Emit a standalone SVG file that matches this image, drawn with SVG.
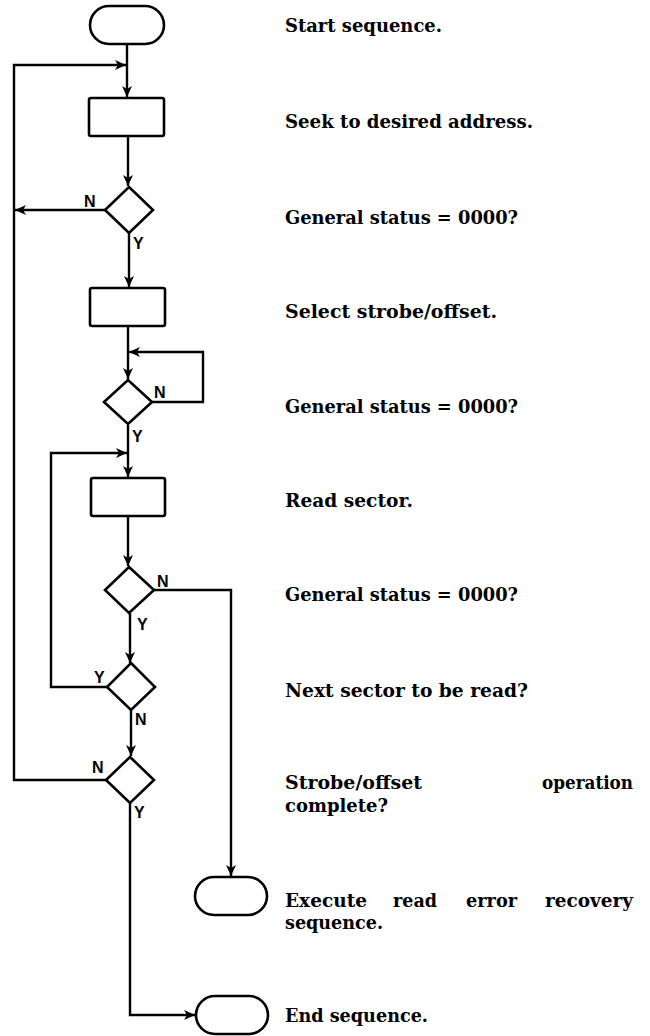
<svg xmlns="http://www.w3.org/2000/svg" width="650" height="1036" viewBox="0 0 650 1036">
<style>
.shape{fill:#fff;stroke:#000;stroke-width:2.6}
.line{fill:none;stroke:#000;stroke-width:2.4}
.desc{font-family:"DejaVu Serif","Liberation Serif",serif;font-weight:bold;font-size:18.5px;fill:#000}
.yn{font-family:"Liberation Sans",Arial,sans-serif;font-weight:bold;font-size:16px;fill:#000}
</style>
<defs>
<marker id="arr" markerUnits="userSpaceOnUse" markerWidth="12" markerHeight="10" refX="11" refY="5" orient="auto">
<path d="M0,0 L11,5 L0,10 L3,5 z" fill="#000"/>
</marker>
</defs>
<rect width="650" height="1036" fill="#fff"/>
<g id="connectors">
<path class="line" d="M127,44 V97" marker-end="url(#arr)"/>
<path class="line" d="M128,136 V186" marker-end="url(#arr)"/>
<path class="line" d="M129,233 V287" marker-end="url(#arr)"/>
<path class="line" d="M128,326 V379" marker-end="url(#arr)"/>
<path class="line" d="M128,425 V477" marker-end="url(#arr)"/>
<path class="line" d="M128,516 V566" marker-end="url(#arr)"/>
<path class="line" d="M130,613 V663" marker-end="url(#arr)"/>
<path class="line" d="M131,710 V756" marker-end="url(#arr)"/>
<path class="line" d="M105,210 H15" marker-end="url(#arr)"/>
<path class="line" d="M106,780 H14 V65 H126" marker-end="url(#arr)"/>
<path class="line" d="M152,402 H203 V352 H129" marker-end="url(#arr)"/>
<path class="line" d="M107,687 H51 V453 H127" marker-end="url(#arr)"/>
<path class="line" d="M153,590 H231 V876" marker-end="url(#arr)"/>
<path class="line" d="M130,803 V1015 H195" marker-end="url(#arr)"/>
</g>
<g id="start"><rect class="shape" x="90" y="6" width="74" height="38" rx="19"/></g>
<g id="seek"><rect class="shape" x="89" y="98" width="75" height="38" rx="2"/></g>
<g id="status1"><polygon class="shape" points="129,187 153,210 129,233 105,210"/></g>
<g id="select"><rect class="shape" x="90" y="288" width="75" height="38" rx="2"/></g>
<g id="status2"><polygon class="shape" points="128,380 152,402 128,424 104,402"/></g>
<g id="read"><rect class="shape" x="91" y="478" width="74" height="38" rx="2"/></g>
<g id="status3"><polygon class="shape" points="129,567 154,590 129,613 105,590"/></g>
<g id="next"><polygon class="shape" points="131,663 155,687 131,710 107,687"/></g>
<g id="complete"><polygon class="shape" points="130,757 154,780 130,803 106,780"/></g>
<g id="recovery"><rect class="shape" x="195" y="877" width="72" height="38" rx="19"/></g>
<g id="end"><rect class="shape" x="196" y="996" width="72" height="38" rx="19"/></g>
<g id="yn-labels">
<text class="yn" x="84" y="207">N</text>
<text class="yn" x="133" y="249">Y</text>
<text class="yn" x="154" y="398">N</text>
<text class="yn" x="132" y="442">Y</text>
<text class="yn" x="157" y="587">N</text>
<text class="yn" x="137" y="630">Y</text>
<text class="yn" x="94" y="683">Y</text>
<text class="yn" x="135" y="725">N</text>
<text class="yn" x="92" y="773">N</text>
<text class="yn" x="134" y="818">Y</text>
</g>
<g id="descriptions">
<text class="desc" x="285" y="32" textLength="157" lengthAdjust="spacingAndGlyphs">Start sequence.</text>
<text class="desc" x="285" y="128" textLength="248" lengthAdjust="spacingAndGlyphs">Seek to desired address.</text>
<text class="desc" x="285" y="224" textLength="233" lengthAdjust="spacingAndGlyphs">General status = 0000?</text>
<text class="desc" x="285" y="318" textLength="212" lengthAdjust="spacingAndGlyphs">Select strobe/offset.</text>
<text class="desc" x="285" y="413" textLength="233" lengthAdjust="spacingAndGlyphs">General status = 0000?</text>
<text class="desc" x="285" y="507" textLength="128" lengthAdjust="spacingAndGlyphs">Read sector.</text>
<text class="desc" x="285" y="601" textLength="233" lengthAdjust="spacingAndGlyphs">General status = 0000?</text>
<text class="desc" x="285" y="697" textLength="243" lengthAdjust="spacingAndGlyphs">Next sector to be read?</text>
<text class="desc" x="285" y="789" textLength="137" lengthAdjust="spacingAndGlyphs">Strobe/offset</text>
<text class="desc" x="542" y="789" textLength="91" lengthAdjust="spacingAndGlyphs">operation</text>
<text class="desc" x="285" y="812" textLength="103" lengthAdjust="spacingAndGlyphs">complete?</text>
<text class="desc" x="285" y="907" textLength="82" lengthAdjust="spacingAndGlyphs">Execute</text>
<text class="desc" x="393" y="907" textLength="44" lengthAdjust="spacingAndGlyphs">read</text>
<text class="desc" x="466" y="907" textLength="51" lengthAdjust="spacingAndGlyphs">error</text>
<text class="desc" x="545" y="907" textLength="88" lengthAdjust="spacingAndGlyphs">recovery</text>
<text class="desc" x="285" y="929" textLength="98" lengthAdjust="spacingAndGlyphs">sequence.</text>
<text class="desc" x="285" y="1022" textLength="143" lengthAdjust="spacingAndGlyphs">End sequence.</text>
</g>
</svg>
